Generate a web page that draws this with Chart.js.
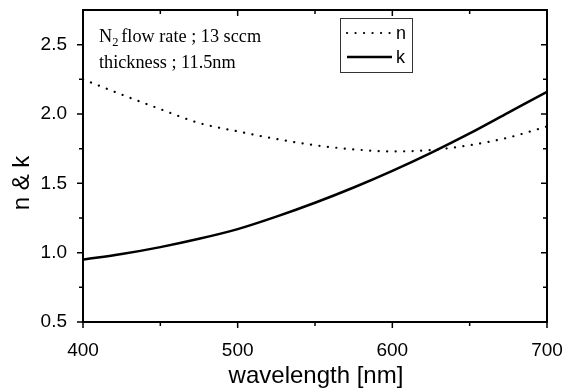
<!DOCTYPE html>
<html>
<head>
<meta charset="utf-8">
<script src="https://cdn.jsdelivr.net/npm/chart.js@4.4.1/dist/chart.umd.min.js"></script>
<style>
  html, body { margin: 0; padding: 0; background: #fff; }
  canvas { display: block; }
</style>
</head>
<body>
<canvas id="nkChart" width="563" height="389"></canvas>
<script>
// ---- data ----
const wavelengths = [400, 425, 450, 475, 500, 525, 550, 575, 600, 625, 650, 675, 700];
const nValues = [2.25, 2.14, 2.035, 1.935, 1.875, 1.82, 1.775, 1.745, 1.73, 1.74, 1.775, 1.83, 1.91];
const kValues = [0.95, 0.99, 1.04, 1.10, 1.17, 1.26, 1.36, 1.47, 1.59, 1.72, 1.86, 2.01, 2.16];
const xTicks = [400, 500, 600, 700];
const xMinor = [450, 550, 650];
const yTicks = [0.5, 1.0, 1.5, 2.0, 2.5];
const yMinor = [0.75, 1.25, 1.75, 2.25];
const seriesNames = ["n", "k"];

const sansFont = "'Liberation Sans', Arial, sans-serif";
const serifFont = "'Liberation Serif', 'Times New Roman', serif";

// frame, mirrored ticks, titles, legend and the note
const framePlugin = {
  id: "frame",
  afterDraw(chart) {
    const ctx = chart.ctx;
    const a = chart.chartArea;
    const xs = chart.scales.x, ys = chart.scales.y;
    ctx.save();
    ctx.strokeStyle = "#000";
    ctx.lineWidth = 2;
    ctx.strokeRect(a.left, a.top, a.right - a.left, a.bottom - a.top);

    ctx.lineWidth = 1.5;
    ctx.beginPath();
    xTicks.concat(xMinor).forEach(v => {
      const len = xTicks.includes(v) ? 6 : 4;
      const px = xs.getPixelForValue(v);
      ctx.moveTo(px, a.bottom); ctx.lineTo(px, a.bottom + len);
      ctx.moveTo(px, a.top); ctx.lineTo(px, a.top + len);
    });
    yTicks.concat(yMinor).forEach(v => {
      const len = yTicks.includes(v) ? 6 : 4;
      const py = ys.getPixelForValue(v);
      ctx.moveTo(a.left - len, py); ctx.lineTo(a.left, py);
      ctx.moveTo(a.right - len, py); ctx.lineTo(a.right, py);
    });
    ctx.stroke();

    // axis titles
    ctx.fillStyle = "#000";
    ctx.font = "24px " + sansFont;
    ctx.textAlign = "center";
    ctx.textBaseline = "alphabetic";
    ctx.fillText("wavelength [nm]", 316, 383);
    ctx.save();
    ctx.translate(29, 183);
    ctx.rotate(-Math.PI / 2);
    ctx.fillText("n & k", 0, 0);
    ctx.restore();

    // note in the top left corner
    ctx.save();
    ctx.translate(99, 0);
    ctx.scale(0.96, 1);
    ctx.textAlign = "left";
    ctx.font = "19px " + serifFont;
    ctx.fillText("N", 0, 42);
    let w = ctx.measureText("N").width;
    ctx.font = "13px " + serifFont;
    ctx.fillText("2", w, 46);
    w += ctx.measureText("2").width + 3;
    ctx.font = "19px " + serifFont;
    ctx.fillText("flow rate ; 13 sccm", w, 42);
    ctx.fillText("thickness ; 11.5nm", 0, 68);
    ctx.restore();

    // legend
    ctx.lineWidth = 1;
    ctx.strokeStyle = "#333";
    ctx.strokeRect(340.5, 18.5, 72, 54);
    ctx.font = "18px " + sansFont;
    ctx.textAlign = "left";
    ctx.textBaseline = "middle";
    chart.data.datasets.forEach((ds, i) => {
      const y = 33 + i * 24;
      ctx.strokeStyle = "#000";
      ctx.lineWidth = ds.borderWidth;
      ctx.lineCap = ds.borderCapStyle || "butt";
      ctx.setLineDash(ds.borderDash || []);
      ctx.beginPath();
      ctx.moveTo(347, y); ctx.lineTo(392, y);
      ctx.stroke();
      ctx.setLineDash([]);
      ctx.fillText(ds.label, 396, y + 1);
    });
    ctx.restore();
  }
};

// keep the plot box where the figure has it, no label overhang padding
function noPad(axis) {
  axis.paddingLeft = 0;
  axis.paddingRight = 0;
  axis.paddingTop = 0;
  axis.paddingBottom = 0;
}

new Chart(document.getElementById("nkChart"), {
  type: "line",
  data: {
    datasets: [
      {
        label: seriesNames[0],
        data: wavelengths.map((w, i) => ({ x: w, y: nValues[i] })),
        borderColor: "#000",
        borderWidth: 2.2,
        borderDash: [0.1, 8.4],
        borderCapStyle: "round",
        pointRadius: 0,
        cubicInterpolationMode: "monotone",
        fill: false
      },
      {
        label: seriesNames[1],
        data: wavelengths.map((w, i) => ({ x: w, y: kValues[i] })),
        borderColor: "#000",
        borderWidth: 2.5,
        pointRadius: 0,
        cubicInterpolationMode: "monotone",
        fill: false
      }
    ]
  },
  options: {
    responsive: false,
    animation: false,
    events: [],
    layout: { padding: { top: 10, right: 16, left: 0, bottom: 0 } },
    plugins: {
      legend: { display: false },
      tooltip: { enabled: false }
    },
    scales: {
      x: {
        type: "linear",
        min: 400,
        max: 700,
        afterBuildTicks: axis => { axis.ticks = xTicks.map(v => ({ value: v })); },
        afterFit: axis => { axis.height = 67; noPad(axis); },
        grid: { display: false },
        border: { display: false },
        ticks: {
          color: "#000",
          padding: 9,
          maxRotation: 0,
          font: { family: sansFont, size: 19 }
        }
      },
      y: {
        min: 0.5,
        max: 2.75,
        afterBuildTicks: axis => { axis.ticks = yTicks.map(v => ({ value: v })); },
        afterFit: axis => { axis.width = 83; noPad(axis); },
        grid: { display: false },
        border: { display: false },
        ticks: {
          color: "#000",
          padding: 8,
          font: { family: sansFont, size: 19 },
          callback: v => v.toFixed(1)
        }
      }
    }
  },
  plugins: [framePlugin]
});
</script>
</body>
</html>
